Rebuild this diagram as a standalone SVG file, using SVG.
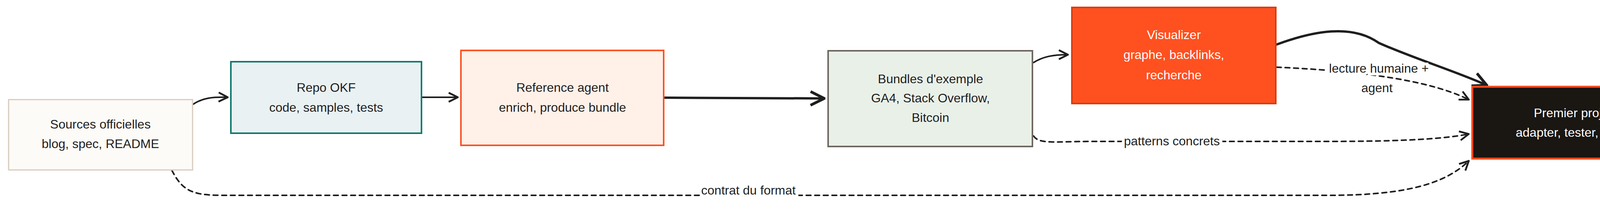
<svg xmlns="http://www.w3.org/2000/svg" width="4291" height="535" viewBox="0 0 4291 535">
<style>
text{font-family:"Liberation Sans",Arial,sans-serif;font-size:32px;text-anchor:middle;fill:#1e1e1e}
.w{fill:#ffffff}
.c{fill:none;stroke:#1e1e1e;stroke-width:4;stroke-linecap:round}
.d{stroke-dasharray:12 10}
.lbl{paint-order:stroke;stroke:#ffffff;stroke-width:14px}
</style>
<defs>
<marker id="a" viewBox="0 0 12 12" refX="11" refY="6" markerWidth="7" markerHeight="7" markerUnits="strokeWidth" orient="auto">
<path d="M1,1 L11,6 L1,11" fill="none" stroke="#1e1e1e" stroke-width="2"/>
</marker>
</defs>
<g id="connectors">
<path class="c" d="M494 267 C520 250,545 248,583 249" marker-end="url(#a)"/>
<path class="c" d="M1080 249 L1172 249" marker-end="url(#a)"/>
<path class="c" style="stroke-width:6" d="M1700 250 L2110 252" marker-end="url(#a)"/>
<path class="c" d="M2646 160 C2670 145,2695 140,2734 140" marker-end="url(#a)"/>
<path class="c" style="stroke-width:6" d="M3268 114 C3360 80,3460 60,3530 110 C3620 150,3720 180,3806 218" marker-end="url(#a)"/>
<path class="c d" d="M3268 172 C3450 180,3650 200,3760 255" marker-end="url(#a)"/>
<path class="c d" d="M2646 348 C2660 370,2700 362,2800 362 L3400 362 C3600 362,3700 355,3760 343" marker-end="url(#a)"/>
<path class="c d" d="M440 436 C470 495,500 500,580 500 L3400 500 C3600 500,3700 470,3760 412" marker-end="url(#a)"/>
<text class="lbl" x="3530" y="186">lecture humaine +</text>
<text class="lbl" x="3525" y="236">agent</text>
<text class="lbl" x="3000" y="372">patterns concrets</text>
<text class="lbl" x="1916" y="498">contrat du format</text>
</g>
<g id="sources"><rect x="22" y="255" width="471" height="180" fill="#fdfbf7" stroke="#d6cbbd" stroke-width="3"/>
<text x="257" y="329">Sources officielles</text><text x="257" y="379">blog, spec, README</text></g>
<g id="repo"><rect x="591" y="158" width="488" height="183" fill="#e9f1f3" stroke="#0f7a6c" stroke-width="4"/>
<text x="835" y="235">Repo OKF</text><text x="835" y="286">code, samples, tests</text></g>
<g id="reference"><rect x="1180" y="129" width="519" height="243" fill="#fff0e8" stroke="#ff5020" stroke-width="4"/>
<text x="1440" y="235">Reference agent</text><text x="1440" y="286">enrich, produce bundle</text></g>
<g id="bundles"><rect x="2120" y="130" width="523" height="245" fill="#e9f0e8" stroke="#6e6760" stroke-width="4"/>
<text x="2382" y="213">Bundles d'exemple</text><text x="2382" y="262">GA4, Stack Overflow,</text><text x="2382" y="312">Bitcoin</text></g>
<g id="visualizer"><rect x="2744" y="19" width="522" height="246" fill="#ff5020" stroke="#d63e10" stroke-width="4"/>
<text class="w" x="3005" y="100">Visualizer</text><text class="w" x="3005" y="151">graphe, backlinks,</text><text class="w" x="3005" y="203">recherche</text></g>
<g id="premier"><rect x="3769" y="222" width="516" height="184" fill="#1a1612" stroke="#ff4a1a" stroke-width="5"/>
<text class="w" x="4027" y="300">Premier projet</text><text class="w" x="4027" y="350">adapter, tester, itérer</text></g>
</svg>
